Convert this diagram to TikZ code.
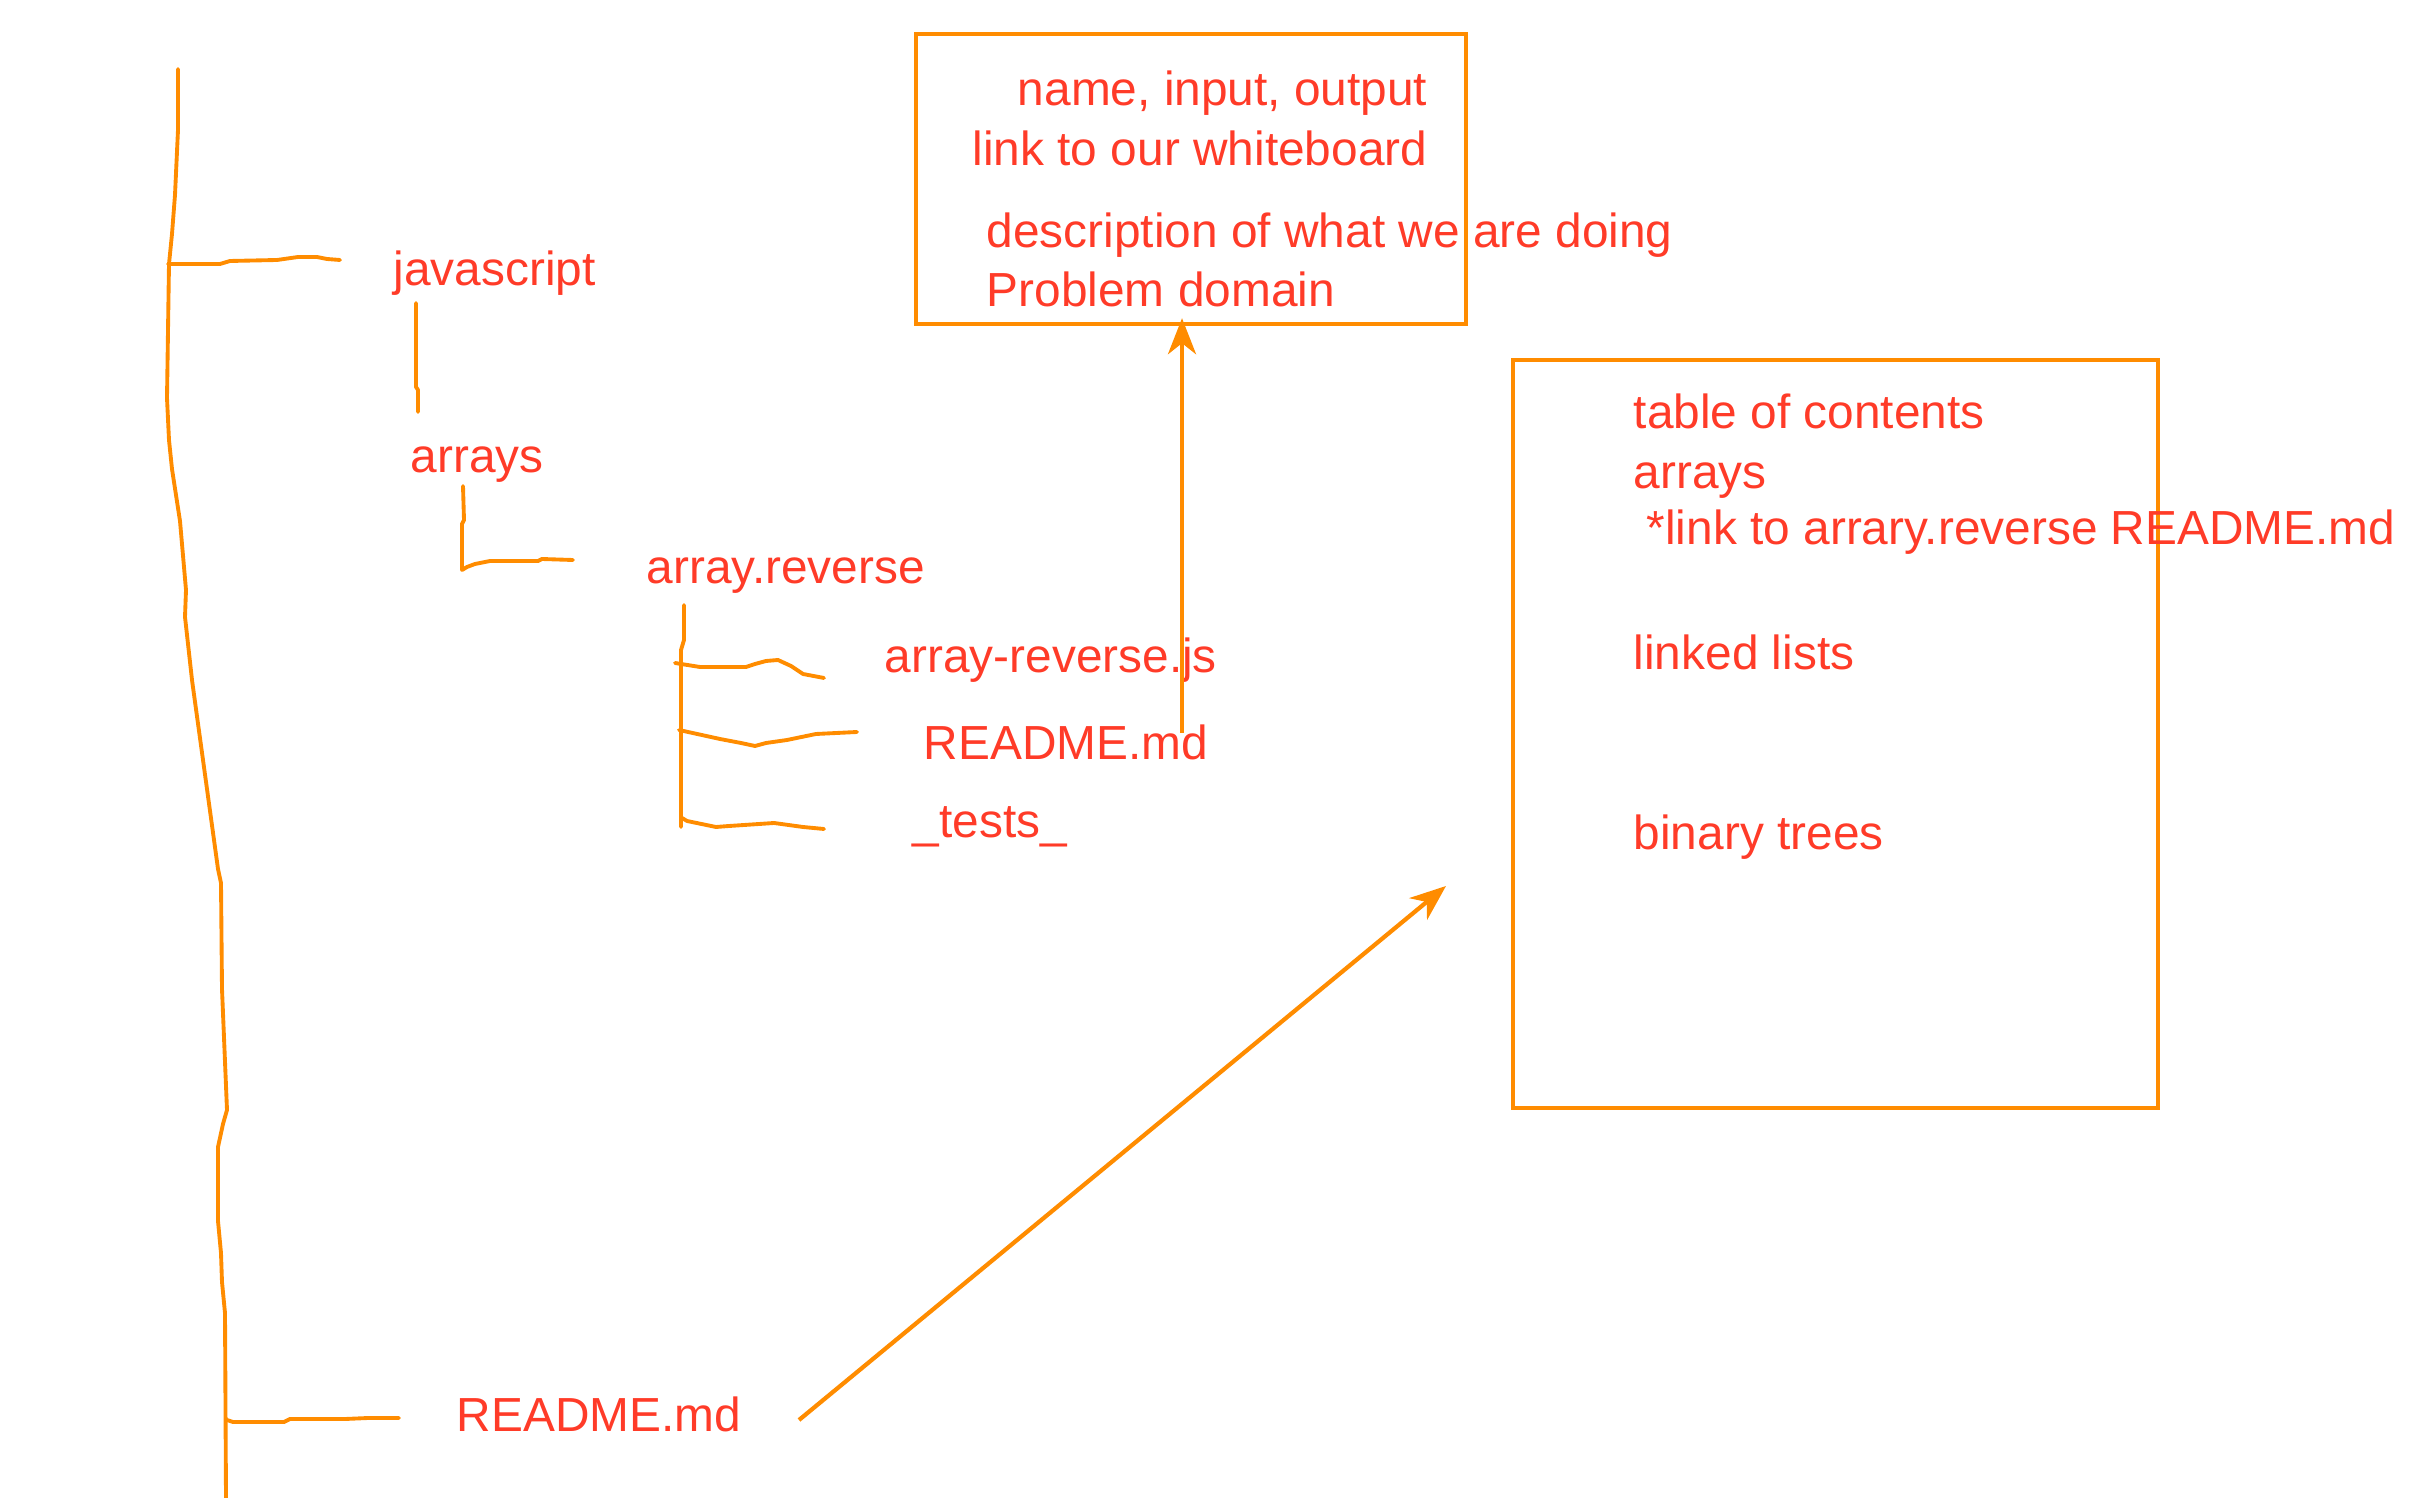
\documentclass[tikz,border=0pt]{standalone}
\usepackage{fontspec}
\setmainfont{Liberation Sans}
\usetikzlibrary{arrows.meta, positioning}
\definecolor{penOrange}{RGB}{255,140,0}
\definecolor{inkRed}{RGB}{255,59,40}

\begin{document}
\begin{tikzpicture}[x=0.01cm, y=-0.01cm,
    pen/.style={penOrange, line width=1.1pt, line join=round, line cap=round},
    frame/.style={draw=penOrange, line width=1.2pt, inner sep=0pt},
    note/.style={inkRed, font=\fontsize{13.6}{16}\selectfont, inner sep=0pt, anchor=base west},
    link/.style={penOrange, line width=1.2pt, -{Stealth[length=3.6mm, width=2.8mm, inset=1.1mm]}}]
  \useasboundingbox (0,0) rectangle (2436,1498);
  % Folder tree
  \draw[pen] (178,69) -- (178,130) -- (175,195) -- (172,234) -- (169,264) -- (167,398)
    -- (169,440) -- (172,469) -- (180,521) -- (186,590) -- (185,617) -- (192,680)
    -- (218,869) -- (221,883) -- (222,989) -- (227,1110) -- (223,1124) -- (218,1147)
    -- (218,1221) -- (221,1253) -- (222,1282) -- (225,1313) -- (226,1498);
  \draw[pen] (168,264) -- (220,264) -- (230,261) -- (277,260) -- (298,257) -- (317,257) -- (327,259) -- (340,260);
  \draw[pen] (416,303) -- (416,387) -- (418,390) -- (418,412);
  \draw[pen] (463,486) -- (464,520) -- (462,524) -- (462,570) -- (467,567) -- (475,564)
    -- (490,561) -- (538,561) -- (542,559) -- (573,560);
  \draw[pen] (684,605) -- (684,640) -- (681,650) -- (681,827);
  \draw[pen] (675,663) -- (700,667) -- (746,667) -- (755,664) -- (766,661) -- (778,660) -- (791,666) -- (803,674) -- (824,678);
  \draw[pen] (679,730) -- (720,739) -- (741,743) -- (755,746) -- (766,743) -- (787,740) -- (816,734) -- (857,732);
  \draw[pen] (682,818) -- (687,821) -- (716,827) -- (729,826) -- (774,823) -- (803,827) -- (824,829);
  \draw[pen] (227,1420) -- (233,1422) -- (284,1422) -- (290,1419) -- (345,1419) -- (368,1418) -- (399,1418);
  \node[note] (jsdir) at (393,286) {javascript};
  \node[note] (arraysdir) at (410,473) {arrays};
  \node[note] (reversedir) at (646,584) {array.reverse};
  \node[note] (reversejs) at (884,673) {array-reverse.js};
  \node[note] (reversereadme) at (923,760) {README.md};
  \node[note] (testsdir) at (912,838) {\_tests\_};
  \node[note] (rootreadme) at (456,1431) {README.md};
  % Readme of one problem
  \node[frame, minimum width=5.5cm, minimum height=2.9cm] (topbox) at (1191,179) {};
  \node[note, anchor=base east] (nameline) at (1428,106) {name, input, output};
  \node[note, anchor=base east] (boardline) at (1428,166) {link to our whiteboard};
  \node[note] (descline) at (986,248) {description of what we are doing};
  \node[note] (domainline) at (986,307) {Problem domain};
  % Root readme
  \node[frame, minimum width=6.45cm, minimum height=7.48cm] (tocbox) at (1835.5,734) {};
  \node[note] (tocline) at (1633,429) {table of contents};
  \node[note] (arraysline) at (1633,489) {arrays};
  \node[note] (linkline) at (1646,545) {*link to arrary.reverse README.md};
  \node[note] (listsline) at (1633,670) {linked lists};
  \node[note] (treesline) at (1633,850) {binary trees};
  % Arrows
  \coordinate (upfrom) at (1182,733);
  \draw[link, shorten >=-0.08cm] (upfrom) -- (upfrom |- topbox.south);
  \coordinate (diagfrom) at (799,1420);
  \coordinate (diagto) at (1446,886);
  \draw[link] (diagfrom) -- (diagto);
\end{tikzpicture}
\end{document}
